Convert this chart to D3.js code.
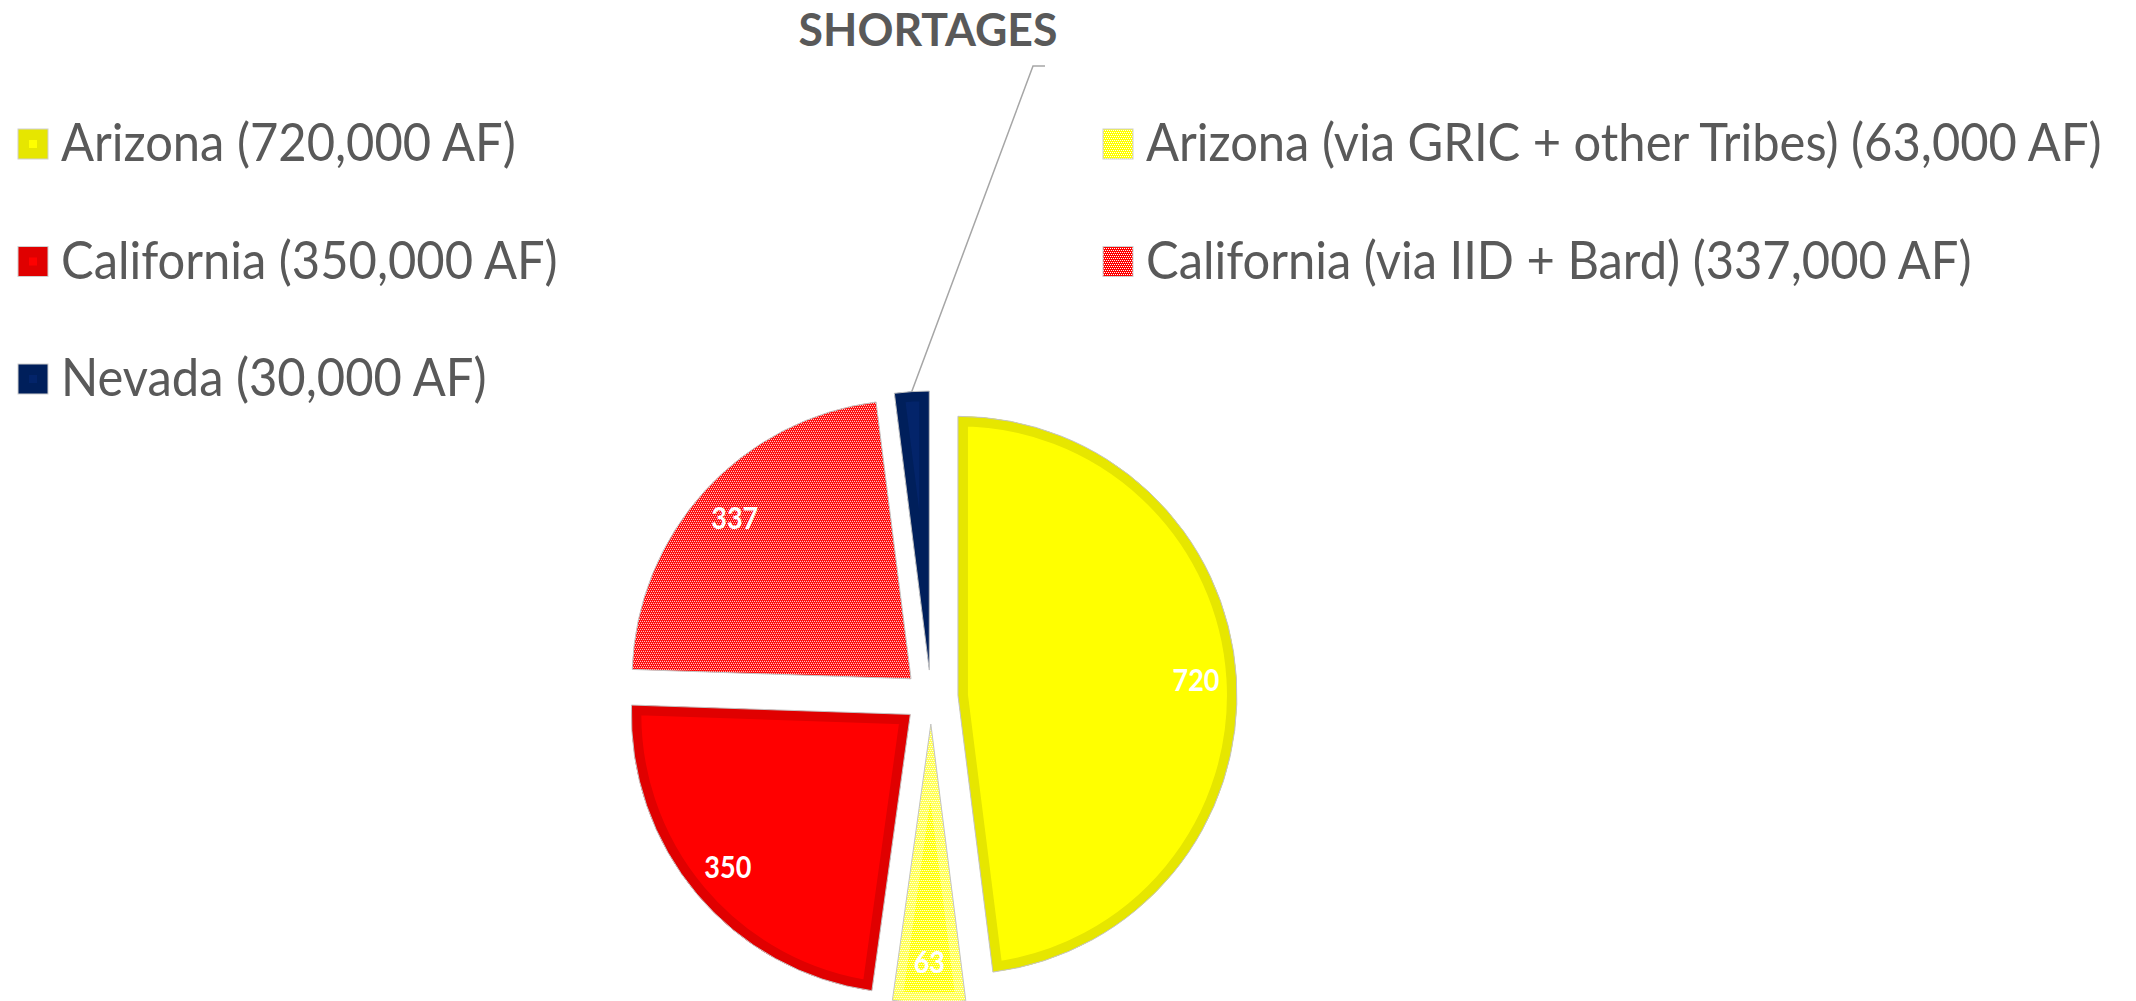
<!DOCTYPE html>
<html>
<head>
<meta charset="utf-8">
<script src="https://cdn.jsdelivr.net/npm/d3@7/dist/d3.min.js"></script>
<style>
  html, body { margin: 0; padding: 0; background: #ffffff; }
  svg { display: block; }
</style>
</head>
<body>
<svg id="chart" width="2136" height="1001"></svg>
<script>
// ---------------- data ----------------
const categories = [
  "Arizona (720,000 AF)",
  "Arizona (via GRIC + other Tribes) (63,000 AF)",
  "California (350,000 AF)",
  "California (via IID + Bard) (337,000 AF)",
  "Nevada (30,000 AF)"
];
const values = [720, 63, 350, 337, 30];
const valueLabels = ["720", "63", "350", "337", ""];
const title = "SHORTAGES";

// ---------------- styles ----------------
const sliceFill   = ["#FFFF00", "url(#patYellow)", "#FF0000", "url(#patRed)", "#03246A"];
const sliceBand   = ["#E6E600", "rgba(255,255,255,0.3)", "#E00000", "none", "#001F5B"];
const markerFill  = ["#FFFF00", "url(#patYellow)", "#FF0000", "url(#patRed)", "#03246A"];
const markerBand  = ["#E6E600", null, "#E00000", null, "#001F5B"];
const textColor = "#595959";
const font = "Lato, 'Open Sans', sans-serif";

const svg = d3.select("#chart");

// text drawn slightly condensed (Calibri-like proportions) via a horizontal scale
function condensedText(parent, x, y, str, size, weight, fill, anchor, sx) {
  const gg = parent.append("g").attr("transform", `translate(${x},${y}) scale(${sx},1)`);
  return gg.append("text")
    .attr("x", 0).attr("y", 0)
    .attr("text-anchor", anchor)
    .attr("font-family", font).attr("font-weight", weight)
    .attr("font-size", size).attr("fill", fill)
    .text(str);
}

// ---------------- patterns ----------------
const defs = svg.append("defs");
function makePattern(id, base) {
  const p = defs.append("pattern").attr("id", id)
    .attr("patternUnits", "userSpaceOnUse")
    .attr("width", 4).attr("height", 4);
  p.append("rect").attr("width", 4).attr("height", 4).attr("fill", base);
  [[0, 0], [2, 0], [1, 2], [3, 2]].forEach(([x, y]) => {
    p.append("rect").attr("x", x).attr("y", y)
      .attr("width", 1).attr("height", 1)
      .attr("fill", "#ffffff").attr("shape-rendering", "crispEdges");
  });
}
makePattern("patYellow", "#FFFF00");
makePattern("patRed", "#FF0000");

// ---------------- pie ----------------
const cx = 931, cy = 697, R = 279, explode = 27, band = 10;
const pie = d3.pie().sort(null).value(d => d)(values);
const arc = d3.arc().innerRadius(0).outerRadius(R);
const labelArc = d3.arc().innerRadius(R * 0.855).outerRadius(R * 0.855);

const g = svg.append("g").attr("transform", `translate(${cx},${cy})`);

pie.forEach((d, i) => {
  const mid = (d.startAngle + d.endAngle) / 2;
  const dx = explode * Math.sin(mid), dy = -explode * Math.cos(mid);
  const sg = g.append("g").attr("transform", `translate(${dx},${dy})`);
  const path = arc(d);
  defs.append("clipPath").attr("id", "clip" + i).append("path").attr("d", path);
  sg.append("path").attr("d", path).attr("fill", sliceFill[i]);
  if (sliceBand[i] !== "none") {
    sg.append("path").attr("d", path)
      .attr("fill", "none")
      .attr("stroke", sliceBand[i])
      .attr("stroke-width", band * 2)
      .attr("stroke-linejoin", "miter")
      .attr("clip-path", `url(#clip${i})`);
  }
  sg.append("path").attr("d", path)
    .attr("fill", "none").attr("stroke", "#C4C4C4").attr("stroke-width", 1);

  if (valueLabels[i]) {
    const [lx, ly] = labelArc.centroid(d);
    condensedText(sg, lx, ly + 10.5, valueLabels[i], 30, "bold", "#ffffff", "middle", 0.9);
  }
});

// ---------------- leader line + title ----------------
const nev = pie[4];
const nmid = (nev.startAngle + nev.endAngle) / 2;
const nx = cx + (explode + R) * Math.sin(nmid);
const ny = cy - (explode + R) * Math.cos(nmid);
svg.append("path")
  .attr("d", d3.line()([[nx, ny], [1033, 66], [1045, 66]]))
  .attr("fill", "none").attr("stroke", "#A6A6A6").attr("stroke-width", 1.5);

condensedText(svg, 928, 46, title, 46, "bold", textColor, "middle", 0.97);

// ---------------- legend ----------------
const colX = [18, 1103];
const rowBase = [161, 278.5, 396];
const markerSize = 30;
categories.forEach((c, i) => {
  const col = i % 2, row = Math.floor(i / 2);
  const x = colX[col], base = rowBase[row];
  const top = base - 32;
  const lg = svg.append("g");
  if (markerBand[i]) {
    lg.append("rect").attr("x", x).attr("y", top)
      .attr("width", markerSize).attr("height", markerSize)
      .attr("fill", markerBand[i]);
    lg.append("rect").attr("x", x + 11).attr("y", top + 11)
      .attr("width", markerSize - 22).attr("height", markerSize - 22)
      .attr("fill", markerFill[i]);
  } else {
    lg.append("rect").attr("x", x).attr("y", top)
      .attr("width", markerSize).attr("height", markerSize)
      .attr("fill", markerFill[i]);
  }
  lg.append("rect").attr("x", x).attr("y", top)
    .attr("width", markerSize).attr("height", markerSize)
    .attr("fill", "none").attr("stroke", "#D0D0D0").attr("stroke-width", 1);
  condensedText(lg, x + 43, base, c, 52, "normal", textColor, "start", 0.94);
});
</script>
</body>
</html>
